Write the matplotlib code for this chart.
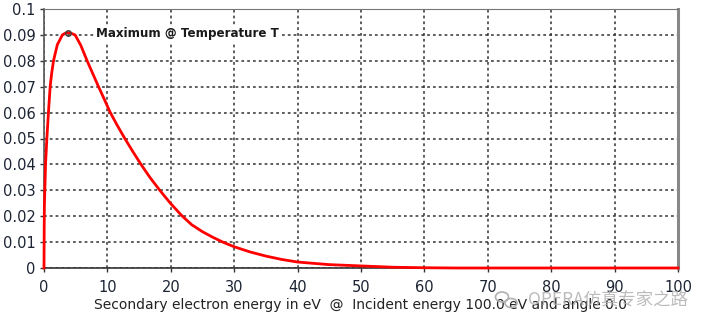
import numpy as np
import matplotlib
matplotlib.use('Agg')
import matplotlib.pyplot as plt
from matplotlib.patches import Ellipse

# 二次电子能谱(入射 100 eV,0°)
energy = [0, 0.03, 0.06, 0.13, 0.24, 0.45, 0.7, 0.97, 1.2, 1.5, 2.1, 2.9, 3.4,
          3.8, 4.3, 4.9, 5.8, 6.8, 7.7, 8.6, 9.5, 10.4, 11.5, 12.7, 14.0, 15.3,
          16.7, 18.2, 19.9, 21.7, 23.3, 25.0, 26.6, 28.2, 30.0, 32.5, 35.0, 37.5,
          40.0, 45.0, 50.0, 55.0, 60.0, 65.0, 100.0]
spectrum = [0, 0.015, 0.024, 0.030, 0.040, 0.050, 0.060, 0.070, 0.075, 0.080,
            0.0862, 0.0900, 0.0907, 0.0909, 0.0906, 0.0900, 0.0860, 0.0800,
            0.0750, 0.0700, 0.0652, 0.0603, 0.0553, 0.0502, 0.0450, 0.0400,
            0.0350, 0.0302, 0.0251, 0.0203, 0.0167, 0.0140, 0.0119, 0.0100,
            0.0082, 0.0062, 0.0046, 0.0033, 0.0023, 0.0013, 0.0008, 0.0003,
            0.0001, 0.0, 0.0]
peak_x, peak_y = 3.8, 0.0909
peak_label = 'Maximum @ Temperature T'
xlabel = 'Secondary electron energy in eV  @  Incident energy 100.0 eV and angle 0.0'
xticks = list(range(0, 101, 10))
yticks = [0, 0.01, 0.02, 0.03, 0.04, 0.05, 0.06, 0.07, 0.08, 0.09, 0.1]
ytick_labels = ['0', '0.01', '0.02', '0.03', '0.04', '0.05', '0.06', '0.07',
                '0.08', '0.09', '0.1']

TICK_COLOR = '#1c2433'

fig = plt.figure(figsize=(7.05, 3.32), dpi=100)
ax = fig.add_axes([44 / 705, 1 - 268 / 332, 634 / 705, 259 / 332])

ax.set_xlim(0, 100)
ax.set_ylim(0, 0.1)
ax.set_xticks(xticks)
ax.set_xticklabels([str(t) for t in xticks])
ax.set_yticks(yticks)
ax.set_yticklabels(ytick_labels)
ax.tick_params(axis='both', labelsize=10.5, colors='#333333', labelcolor=TICK_COLOR,
               length=3, width=1, direction='out')
ax.tick_params(axis='x', pad=6)
ax.tick_params(axis='y', pad=3)

# 点线网格
ax.grid(True, color='#333333', linestyle=(0, (1.8, 2.0)), linewidth=1.1)
ax.set_axisbelow(True)

ax.spines['left'].set_color('#555555')
ax.spines['bottom'].set_color('#333333')
ax.spines['top'].set_color('#777777')
ax.spines['right'].set_color('#888888')
ax.spines['right'].set_linewidth(2.2)
ax.spines['left'].set_linewidth(1.2)
ax.spines['bottom'].set_linewidth(1.2)

ax.plot(energy, spectrum, color='#ff0000', lw=2.0, solid_joinstyle='round',
        clip_on=False, zorder=3)
ax.plot([peak_x], [peak_y], 'o', ms=4, mfc='none', mec='#404040', mew=1.0, zorder=4)
ax.text(8.2, 0.0905, peak_label, fontsize=8.6, fontweight='bold', color='#1a1a1a',
        va='center', ha='left',
        bbox=dict(facecolor='white', edgecolor='none', pad=1.5))

ax.set_xlabel(xlabel, fontsize=10, color='#222222', labelpad=2)

# 水印
fig.text(528 / 705, 1 - 301 / 332, 'OPERA仿真专家之路', fontsize=12.5,
         color='#b0b0b0', alpha=0.85, ha='left', va='center',
         family=['Noto Sans CJK SC', 'DejaVu Sans'])
fig.add_artist(Ellipse((502 / 705, 1 - 297 / 332), 13 / 705, 10 / 332,
                       transform=fig.transFigure, fill=False, ec='#b0b0b0', lw=1.2))
fig.add_artist(Ellipse((511 / 705, 1 - 303 / 332), 12 / 705, 9 / 332,
                       transform=fig.transFigure, fill=False, ec='#b0b0b0', lw=1.2))

fig.savefig('out.png', dpi=100)
